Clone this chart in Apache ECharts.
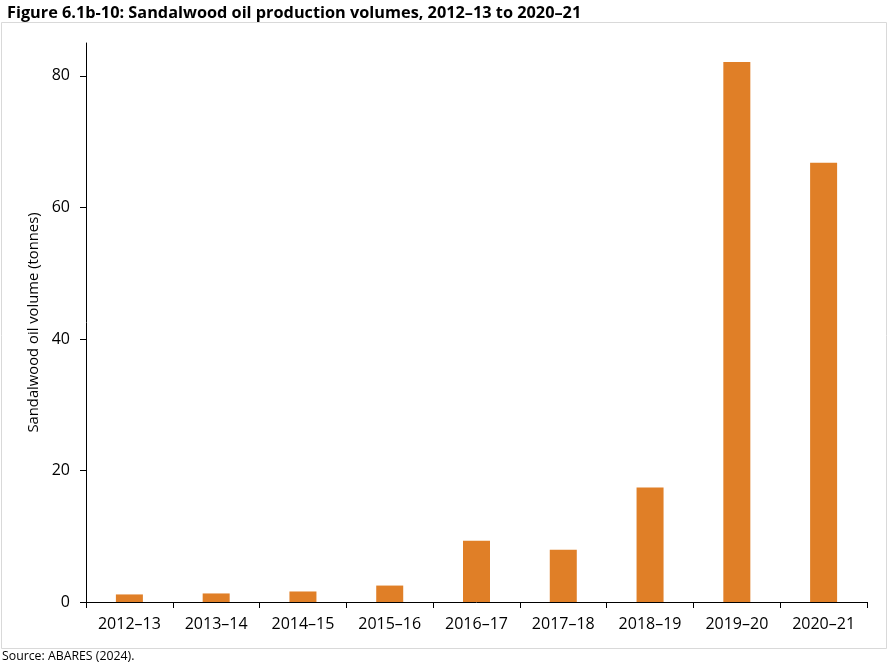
<!DOCTYPE html>
<html>
<head>
<meta charset="utf-8">
<script src="https://cdn.jsdelivr.net/npm/echarts@6/dist/echarts.min.js"></script>
<style>
html,body{margin:0;padding:0;background:#fff;}
#chart{width:889px;height:666px;}
</style>
</head>
<body>
<div id="chart"></div>
<script>
const categories = ['2012–13','2013–14','2014–15','2015–16','2016–17','2017–18','2018–19','2019–20','2020–21'];
const oilVolume = [1.15, 1.3, 1.6, 2.5, 9.3, 7.95, 17.4, 82.1, 66.8];
const yTicks = [0, 20, 40, 60, 80];

const FONT = "'Open Sans', 'Liberation Sans', sans-serif";
const chart = echarts.init(document.getElementById('chart'), null, {renderer:'canvas'});
chart.setOption({
  animation: false,
  backgroundColor: '#fff',
  title: {
    text: 'Figure 6.1b-10: Sandalwood oil production volumes, 2012–13 to 2020–21',
    left: 2, top: 0,
    textStyle: {fontFamily: FONT, fontSize: 16.3, fontWeight: 'bold', color: '#000'}
  },
  graphic: [
    {type:'rect', shape:{x:1.5, y:22.5, width:885, height:626}, style:{fill:'none', stroke:'#d9d9d9', lineWidth:1}, silent:true, z:-1},
    {type:'text', left:2, top:650, style:{text:'Source: ABARES (2024).', fontFamily: FONT, fontSize:12.3, fill:'#000'}}
  ],
  grid: {left: 86, right: 22, top: 43, bottom: 64, containLabel: false},
  xAxis: {
    type: 'category',
    data: categories,
    axisLine: {lineStyle: {color: '#000', width: 1}},
    axisTick: {show: true, alignWithLabel: false, length: 6, lineStyle: {color: '#000'}},
    axisLabel: {fontFamily: FONT, fontSize: 16, color: '#000', margin: 14, interval: 0}
  },
  yAxis: {
    type: 'value',
    min: 0, max: 85, interval: 20,
    name: 'Sandalwood oil volume (tonnes)',
    nameLocation: 'middle',
    nameGap: 45,
    nameRotate: 90,
    nameTextStyle: {fontFamily: FONT, fontSize: 14.8, color: '#000'},
    axisLine: {show: true, lineStyle: {color: '#000', width: 1}},
    axisTick: {show: true, length: 6, lineStyle: {color: '#000'}, customValues: yTicks},
    axisLabel: {fontFamily: FONT, fontSize: 16, color: '#000', margin: 16, customValues: yTicks},
    splitLine: {show: false}
  },
  series: [{
    type: 'bar',
    data: oilVolume,
    barWidth: 27,
    itemStyle: {color: '#e07f27'}
  }]
});
</script>
</body>
</html>
